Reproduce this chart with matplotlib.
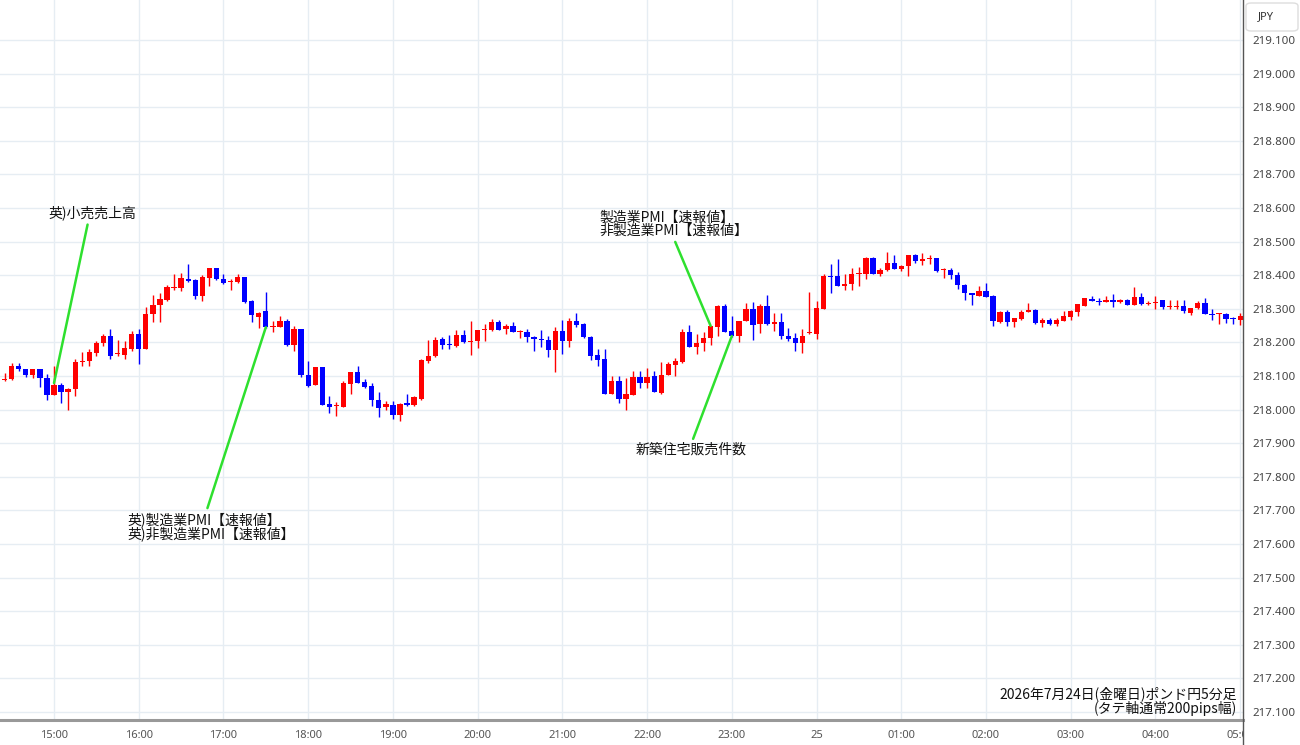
import numpy as np
import pandas as pd
import matplotlib
matplotlib.use("Agg")
import matplotlib.pyplot as plt
from matplotlib.lines import Line2D
from matplotlib.patches import FancyBboxPatch
from matplotlib.ticker import FormatStrFormatter
from matplotlib.transforms import Bbox, TransformedBbox

# GBP/JPY 5-minute candles, 2026-07-24 14:25 -> 07-25 05:00 (JST)
start = "2026-07-24 14:25"

opens = [218.088, 218.090, 218.130, 218.120, 218.103, 218.120, 218.095, 218.042, 218.074, 218.052,
         218.062, 218.142, 218.145, 218.167, 218.197, 218.220, 218.164, 218.163, 218.180, 218.225,
         218.180, 218.285, 218.310, 218.325, 218.361, 218.361, 218.390, 218.386, 218.338, 218.392,
         218.420, 218.388, 218.380, 218.381, 218.394, 218.324, 218.277, 218.294, 218.245, 218.247,
         218.265, 218.193, 218.239, 218.103, 218.073, 218.128, 218.017, 218.010, 218.009, 218.075,
         218.113, 218.083, 218.070, 218.030, 218.007, 218.014, 217.985, 218.020, 218.013, 218.033,
         218.145, 218.160, 218.209, 218.195, 218.190, 218.223, 218.200, 218.203, 218.237, 218.237,
         218.262, 218.241, 218.249, 218.232, 218.232, 218.216, 218.209, 218.207, 218.177, 218.235,
         218.205, 218.265, 218.255, 218.217, 218.162, 218.150, 218.047, 218.086, 218.033, 218.043,
         218.096, 218.078, 218.100, 218.050, 218.103, 218.132, 218.142, 218.231, 218.185, 218.198,
         218.212, 218.247, 218.308, 218.235, 218.220, 218.265, 218.298, 218.255, 218.308, 218.256,
         218.262, 218.219, 218.212, 218.197, 218.228, 218.225, 218.298, 218.398, 218.398, 218.368,
         218.374, 218.403, 218.405, 218.450, 218.405, 218.415, 218.437, 218.418, 218.428, 218.460,
         218.443, 218.448, 218.450, 218.416, 218.416, 218.402, 218.370, 218.346, 218.338, 218.354,
         218.338, 218.262, 218.291, 218.262, 218.271, 218.291, 218.296, 218.258, 218.266, 218.256,
         218.265, 218.277, 218.289, 218.308, 218.330, 218.324, 218.321, 218.327, 218.319, 218.327,
         218.311, 218.336, 218.313, 218.318, 218.325, 218.304, 218.304, 218.308, 218.288, 218.301,
         218.318, 218.286, 218.284, 218.284, 218.272, 218.268]
highs = [218.109, 218.140, 218.138, 218.122, 218.122, 218.122, 218.105, 218.130, 218.080, 218.063,
         218.150, 218.170, 218.180, 218.205, 218.225, 218.240, 218.207, 218.205, 218.233, 218.240,
         218.305, 218.340, 218.347, 218.370, 218.403, 218.406, 218.433, 218.390, 218.400, 218.420,
         218.422, 218.404, 218.390, 218.404, 218.396, 218.326, 218.290, 218.350, 218.265, 218.280,
         218.270, 218.250, 218.240, 218.146, 218.128, 218.128, 218.040, 218.023, 218.085, 218.113,
         218.130, 218.090, 218.080, 218.053, 218.027, 218.026, 218.020, 218.046, 218.040, 218.152,
         218.207, 218.217, 218.215, 218.222, 218.237, 218.237, 218.265, 218.238, 218.255, 218.270,
         218.268, 218.255, 218.260, 218.237, 218.240, 218.218, 218.238, 218.219, 218.247, 218.267,
         218.272, 218.288, 218.258, 218.220, 218.180, 218.180, 218.100, 218.100, 218.093, 218.115,
         218.116, 218.125, 218.114, 218.142, 218.142, 218.155, 218.240, 218.252, 218.225, 218.232,
         218.249, 218.311, 218.315, 218.280, 218.265, 218.318, 218.321, 218.314, 218.341, 218.288,
         218.288, 218.243, 218.229, 218.239, 218.350, 218.324, 218.404, 218.433, 218.447, 218.404,
         218.420, 218.425, 218.455, 218.455, 218.420, 218.470, 218.459, 218.431, 218.460, 218.463,
         218.467, 218.460, 218.452, 218.420, 218.420, 218.410, 218.373, 218.348, 218.368, 218.378,
         218.341, 218.292, 218.296, 218.273, 218.295, 218.318, 218.299, 218.273, 218.272, 218.272,
         218.294, 218.296, 218.313, 218.331, 218.337, 218.331, 218.337, 218.344, 218.328, 218.329,
         218.364, 218.348, 218.322, 218.337, 218.325, 218.325, 218.325, 218.327, 218.301, 218.324,
         218.331, 218.298, 218.288, 218.287, 218.276, 218.287]
lows = [218.085, 218.088, 218.114, 218.097, 218.094, 218.067, 218.030, 218.042, 218.020, 218.000,
        218.040, 218.130, 218.130, 218.160, 218.190, 218.150, 218.160, 218.150, 218.175, 218.135,
        218.180, 218.260, 218.260, 218.323, 218.357, 218.354, 218.380, 218.330, 218.324, 218.368,
        218.385, 218.374, 218.355, 218.378, 218.318, 218.260, 218.242, 218.243, 218.230, 218.245,
        218.190, 218.175, 218.096, 218.066, 218.073, 218.014, 217.990, 217.980, 218.009, 218.045,
        218.078, 218.063, 218.010, 217.977, 218.000, 217.971, 217.967, 218.010, 218.010, 218.030,
        218.138, 218.158, 218.180, 218.180, 218.185, 218.198, 218.163, 218.182, 218.203, 218.234,
        218.238, 218.225, 218.232, 218.212, 218.200, 218.175, 218.185, 218.156, 218.113, 218.165,
        218.185, 218.245, 218.213, 218.148, 218.130, 218.045, 218.045, 218.020, 218.000, 218.043,
        218.063, 218.063, 218.053, 218.046, 218.103, 218.100, 218.140, 218.185, 218.166, 218.175,
        218.192, 218.220, 218.231, 218.215, 218.200, 218.263, 218.207, 218.227, 218.252, 218.235,
        218.210, 218.205, 218.175, 218.168, 218.225, 218.209, 218.298, 218.346, 218.368, 218.355,
        218.355, 218.368, 218.390, 218.403, 218.397, 218.413, 218.418, 218.413, 218.397, 218.435,
        218.430, 218.433, 218.410, 218.393, 218.390, 218.360, 218.326, 218.310, 218.338, 218.336,
        218.249, 218.258, 218.249, 218.246, 218.268, 218.289, 218.254, 218.245, 218.253, 218.249,
        218.265, 218.268, 218.280, 218.308, 218.322, 218.311, 218.319, 218.306, 218.316, 218.311,
        218.311, 218.311, 218.312, 218.298, 218.298, 218.300, 218.300, 218.287, 218.281, 218.298,
        218.285, 218.268, 218.255, 218.257, 218.255, 218.252]
closes = [218.092, 218.130, 218.121, 218.103, 218.120, 218.095, 218.042, 218.074, 218.052, 218.062,
          218.143, 218.145, 218.170, 218.197, 218.220, 218.160, 218.167, 218.182, 218.225, 218.180,
          218.285, 218.310, 218.328, 218.364, 218.365, 218.392, 218.383, 218.338, 218.396, 218.420,
          218.388, 218.376, 218.383, 218.396, 218.321, 218.281, 218.287, 218.245, 218.249, 218.265,
          218.193, 218.239, 218.103, 218.070, 218.128, 218.014, 218.009, 218.013, 218.078, 218.113,
          218.080, 218.068, 218.030, 218.006, 218.017, 217.985, 218.017, 218.015, 218.038, 218.148,
          218.160, 218.207, 218.191, 218.191, 218.223, 218.200, 218.205, 218.238, 218.241, 218.262,
          218.238, 218.249, 218.232, 218.235, 218.215, 218.209, 218.206, 218.177, 218.235, 218.205,
          218.265, 218.252, 218.215, 218.160, 218.148, 218.045, 218.086, 218.033, 218.046, 218.096,
          218.078, 218.098, 218.053, 218.103, 218.136, 218.145, 218.231, 218.185, 218.199, 218.212,
          218.249, 218.308, 218.231, 218.219, 218.265, 218.298, 218.252, 218.308, 218.255, 218.262,
          218.219, 218.209, 218.197, 218.219, 218.232, 218.301, 218.398, 218.396, 218.368, 218.374,
          218.405, 218.406, 218.450, 218.405, 218.415, 218.437, 218.418, 218.428, 218.460, 218.443,
          218.448, 218.452, 218.413, 218.418, 218.400, 218.370, 218.346, 218.341, 218.354, 218.336,
          218.264, 218.291, 218.262, 218.272, 218.291, 218.296, 218.258, 218.266, 218.256, 218.266,
          218.278, 218.292, 218.313, 218.331, 218.323, 218.321, 218.327, 218.321, 218.326, 218.311,
          218.336, 218.314, 218.318, 218.320, 218.304, 218.308, 218.308, 218.292, 218.301, 218.318,
          218.285, 218.282, 218.286, 218.271, 218.270, 218.278]

# economic indicators released during the session
event_labels = ["英)小売売上高",
                "英)製造業PMI【速報値】\n英)非製造業PMI【速報値】",
                "製造業PMI【速報値】\n非製造業PMI【速報値】",
                "新築住宅販売件数"]
event_times = ["2026-07-24 15:00", "2026-07-24 17:30", "2026-07-24 22:45", "2026-07-24 23:00"]
event_prices = [218.079, 218.245, 218.249, 218.219]

price_ticks = np.round(np.arange(217.1, 219.15, 0.1), 1)

# layout of the labels (candle index, price), alignment, where the leader leaves the text
label_xy = [(12.5, 218.585), (17.4, 217.651), (84.2, 218.552), (97.3, 217.880)]
label_ha = ["center", "left", "left", "center"]
label_relpos = [(0.45, 0.0), (0.47, 1.0), (0.5, 0.0), (0.5, 1.0)]

jp = ["Noto Sans CJK JP", "DejaVu Sans"]
plt.rcParams["font.family"] = ["Noto Sans", "DejaVu Sans"]

W, H = 1300, 745
fig = plt.figure(figsize=(W / 100, H / 100), dpi=100)
ax = fig.add_axes([0, 25 / H, 1243 / W, 720 / H])

times = pd.date_range(start, periods=len(opens), freq="5min")
x = np.arange(len(times))
o, h, l, c = map(np.array, (opens, highs, lows, closes))
col = np.where(c >= o, "#ff0000", "#0000ff")

ax.vlines(x, l, h, colors=col, lw=1.0, zorder=3)
ax.bar(x, np.maximum(np.abs(c - o), 0.003), bottom=np.minimum(o, c), width=0.75,
       color=col, linewidth=0, zorder=4)

# leaders + texts
for lab, t, p, xy, ha, rp in zip(event_labels, event_times, event_prices,
                                 label_xy, label_ha, label_relpos):
    i = times.get_loc(pd.Timestamp(t))
    ax.annotate(lab, xy=(i, p), xytext=xy, ha=ha, va="center", fontsize=10,
                family=jp, linespacing=0.95, zorder=5, color="#111111",
                arrowprops=dict(arrowstyle="-", color="#2ee02e", lw=1.8,
                                shrinkA=1, shrinkB=0, relpos=rp))

ax.text(0.995, 0.006, "2026年7月24日(金曜日)ポンド円5分足\n(タテ軸通常200pips幅)",
        transform=ax.transAxes, ha="right", va="bottom", multialignment="right",
        fontsize=10, family=jp, linespacing=0.95, zorder=6, color="#111111")

# axes
ax.set_xlim(-0.65, 175.4)
ax.set_ylim(217.1 - 8 / 336, 219.1 + 40 / 336)

hour_idx = x[times.minute == 0]
hour_lab = [str(t.day) if t.hour == 0 else t.strftime("%H:%M") for t in times[hour_idx]]
ax.set_xticks(hour_idx)
ax.set_xticklabels(hour_lab)
ax.yaxis.tick_right()
ax.set_yticks(price_ticks)
ax.yaxis.set_major_formatter(FormatStrFormatter("%.3f"))
ax.tick_params(axis="x", length=0, pad=7, labelsize=8, labelcolor="#555555")
ax.tick_params(axis="y", length=0, pad=7, labelsize=8.3, labelcolor="#444444")
for lbl in ax.get_xticklabels():
    if lbl.get_text() == "25":
        lbl.set_fontweight("bold")
    lbl.set_clip_box(TransformedBbox(Bbox([[0, 0], [1243 / W, 1]]), fig.transFigure))
    lbl.set_clip_on(True)

ax.grid(color="#e6edf3", lw=1, zorder=0)
for s in ("top", "left", "right"):
    ax.spines[s].set_visible(False)
ax.spines["bottom"].set_color("#999999")
ax.spines["bottom"].set_linewidth(2.2)

fig.add_artist(Line2D([1243 / W] * 2, [0, 1], transform=fig.transFigure,
                      color="#555555", lw=1))
fig.patches.append(FancyBboxPatch((1246 / W, 1 - 31 / H), 52 / W, 28 / H,
                                  boxstyle="round,pad=0,rounding_size=0.004",
                                  transform=fig.transFigure, fc="white",
                                  ec="#dddddd", lw=1))
fig.text(1266 / W, 1 - 17 / H, "JPY", ha="center", va="center", fontsize=8,
         color="#333333")

fig.savefig("out.png", dpi=100)
